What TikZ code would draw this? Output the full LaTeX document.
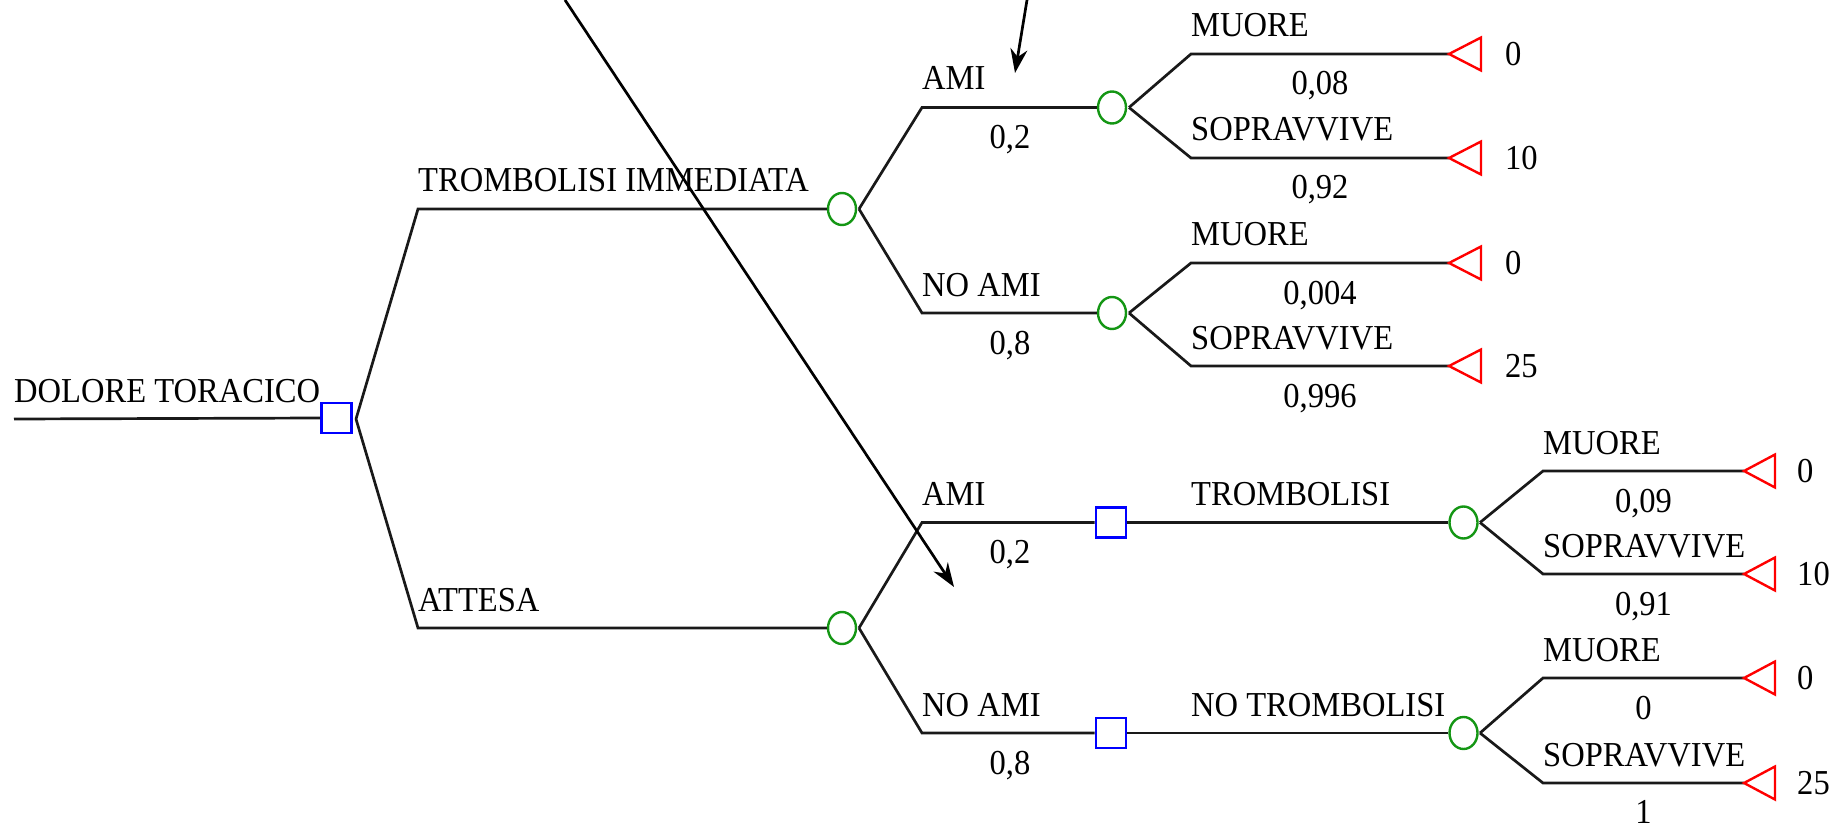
\documentclass[tikz,border=0pt]{standalone}
\usepackage{fontspec}
\setmainfont[FakeStretch=0.93]{Liberation Serif}
\usetikzlibrary{shapes.geometric,arrows.meta}
\definecolor{chgreen}{RGB}{20,150,20}
\definecolor{decblue}{RGB}{0,0,255}
\definecolor{termred}{RGB}{255,0,0}
\begin{document}
\begin{tikzpicture}[x=1pt,y=-1pt,
  lbl/.style={font=\fontsize{35}{40}\selectfont, inner sep=0pt},
  toplbl/.style={lbl, anchor=base west},
  prob/.style={lbl, anchor=base},
  val/.style={lbl, anchor=west},
  branch/.style={line width=2.7pt, black!90},
  chance/.style={ellipse, draw=chgreen, line width=2.4pt, minimum width=28pt, minimum height=32pt, inner sep=0pt},
  decision/.style={rectangle, draw=decblue, line width=2.6pt, minimum size=30pt, inner sep=0pt},
  terminal/.style={draw=termred, line width=2.4pt, line join=miter},
  callout/.style={line width=2.7pt, -{Stealth[length=24pt,width=17pt]}}
]
\useasboundingbox (0,0) rectangle (1833,826);

% root
\coordinate (r0) at (14,419);
\node[decision] (d0) at (336.5,418) {};
\coordinate (f0) at (356,419);
\draw[branch] (r0) -- (d0.west);
\node[toplbl] (l0) at (14,402) {DOLORE TORACICO};

% ---------- TROMBOLISI IMMEDIATA ----------
\coordinate (a1) at (418,209);
\node[chance] (c1) at (842,209) {};
\coordinate (f1) at (859,209);
\draw[branch] (f0) -- (a1) -- (c1.west);
\node[toplbl] (l1) at (418,192) {TROMBOLISI IMMEDIATA};

% AMI
\coordinate (a11) at (922,107.5);
\node[chance] (c11) at (1112,107.5) {};
\coordinate (f11) at (1129,107.5);
\draw[branch] (f1) -- (a11) -- (c11.west);
\node[toplbl] (l11) at (922,90) {AMI};
\node[prob] (p11) at (1010,148.5) {0,2};

\coordinate (a111) at (1191,54);
\coordinate (t111) at (1449,54);
\draw[branch] (f11) -- (a111) -- (t111);
\draw[terminal] (t111) -- ++(32,-16.5) -- ++(0,33) -- cycle;
\node[toplbl] (l111) at (1191,37) {MUORE};
\node[prob] (p111) at (1320,95) {0,08};
\node[val] (v111) at (1505,54) {0};

\coordinate (a112) at (1191,158);
\coordinate (t112) at (1449,158);
\draw[branch] (f11) -- (a112) -- (t112);
\draw[terminal] (t112) -- ++(32,-16.5) -- ++(0,33) -- cycle;
\node[toplbl] (l112) at (1191,141) {SOPRAVVIVE};
\node[prob] (p112) at (1320,199) {0,92};
\node[val] (v112) at (1505,158) {10};

% NO AMI
\coordinate (a12) at (922,313);
\node[chance] (c12) at (1112,313) {};
\coordinate (f12) at (1129,313);
\draw[branch] (f1) -- (a12) -- (c12.west);
\node[toplbl] (l12) at (922,296) {NO AMI};
\node[prob] (p12) at (1010,354) {0,8};

\coordinate (a121) at (1191,263);
\coordinate (t121) at (1449,263);
\draw[branch] (f12) -- (a121) -- (t121);
\draw[terminal] (t121) -- ++(32,-16.5) -- ++(0,33) -- cycle;
\node[toplbl] (l121) at (1191,246) {MUORE};
\node[prob] (p121) at (1320,304) {0,004};
\node[val] (v121) at (1505,263) {0};

\coordinate (a122) at (1191,366);
\coordinate (t122) at (1449,366);
\draw[branch] (f12) -- (a122) -- (t122);
\draw[terminal] (t122) -- ++(32,-16.5) -- ++(0,33) -- cycle;
\node[toplbl] (l122) at (1191,349) {SOPRAVVIVE};
\node[prob] (p122) at (1320,407) {0,996};
\node[val] (v122) at (1505,366) {25};

% ---------- ATTESA ----------
\coordinate (a2) at (418,628);
\node[chance] (c2) at (842,628) {};
\coordinate (f2) at (859,628);
\draw[branch] (f0) -- (a2) -- (c2.west);
\node[toplbl] (l2) at (418,611) {ATTESA};

% AMI -> TROMBOLISI
\coordinate (a21) at (922,522.5);
\node[decision] (d21) at (1111,522.5) {};
\node[chance] (c21) at (1463.5,522.5) {};
\coordinate (f21) at (1480,522.5);
\draw[branch] (f2) -- (a21) -- (d21.west);
\draw[branch] (d21.east) -- (c21.west);
\node[toplbl] (l21) at (922,505.5) {AMI};
\node[prob] (p21) at (1010,563.5) {0,2};
\node[toplbl] (l21b) at (1191,505.5) {TROMBOLISI};

\coordinate (a211) at (1543,471);
\coordinate (t211) at (1744,471);
\draw[branch] (f21) -- (a211) -- (t211);
\draw[terminal] (t211) -- ++(31,-16.5) -- ++(0,33) -- cycle;
\node[toplbl] (l211) at (1543,454) {MUORE};
\node[prob] (p211) at (1643.5,512) {0,09};
\node[val] (v211) at (1797,471) {0};

\coordinate (a212) at (1543,574);
\coordinate (t212) at (1744,574);
\draw[branch] (f21) -- (a212) -- (t212);
\draw[terminal] (t212) -- ++(31,-16.5) -- ++(0,33) -- cycle;
\node[toplbl] (l212) at (1543,557) {SOPRAVVIVE};
\node[prob] (p212) at (1643.5,615) {0,91};
\node[val] (v212) at (1797,574) {10};

% NO AMI -> NO TROMBOLISI
\coordinate (a22) at (922,733);
\node[decision] (d22) at (1111,733) {};
\node[chance] (c22) at (1463.5,733) {};
\coordinate (f22) at (1480,733);
\draw[branch] (f2) -- (a22) -- (d22.west);
\draw[branch] (d22.east) -- (c22.west);
\node[toplbl] (l22) at (922,716) {NO AMI};
\node[prob] (p22) at (1010,774) {0,8};
\node[toplbl] (l22b) at (1191,716) {NO TROMBOLISI};

\coordinate (a221) at (1543,678);
\coordinate (t221) at (1744,678);
\draw[branch] (f22) -- (a221) -- (t221);
\draw[terminal] (t221) -- ++(31,-16.5) -- ++(0,33) -- cycle;
\node[toplbl] (l221) at (1543,661) {MUORE};
\node[prob] (p221) at (1643.5,719) {0};
\node[val] (v221) at (1797,678) {0};

\coordinate (a222) at (1543,783);
\coordinate (t222) at (1744,783);
\draw[branch] (f22) -- (a222) -- (t222);
\draw[terminal] (t222) -- ++(31,-16.5) -- ++(0,33) -- cycle;
\node[toplbl] (l222) at (1543,766) {SOPRAVVIVE};
\node[prob] (p222) at (1643.5,823) {1};
\node[val] (v222) at (1797,783) {25};

% callout arrows
\coordinate (s1) at (565,0);
\coordinate (e1) at (954,587);
\draw[callout] (s1) -- (e1);
\coordinate (s2) at (1027,0);
\coordinate (e2) at (1015,73);
\draw[callout] (s2) -- (e2);
\end{tikzpicture}
\end{document}
